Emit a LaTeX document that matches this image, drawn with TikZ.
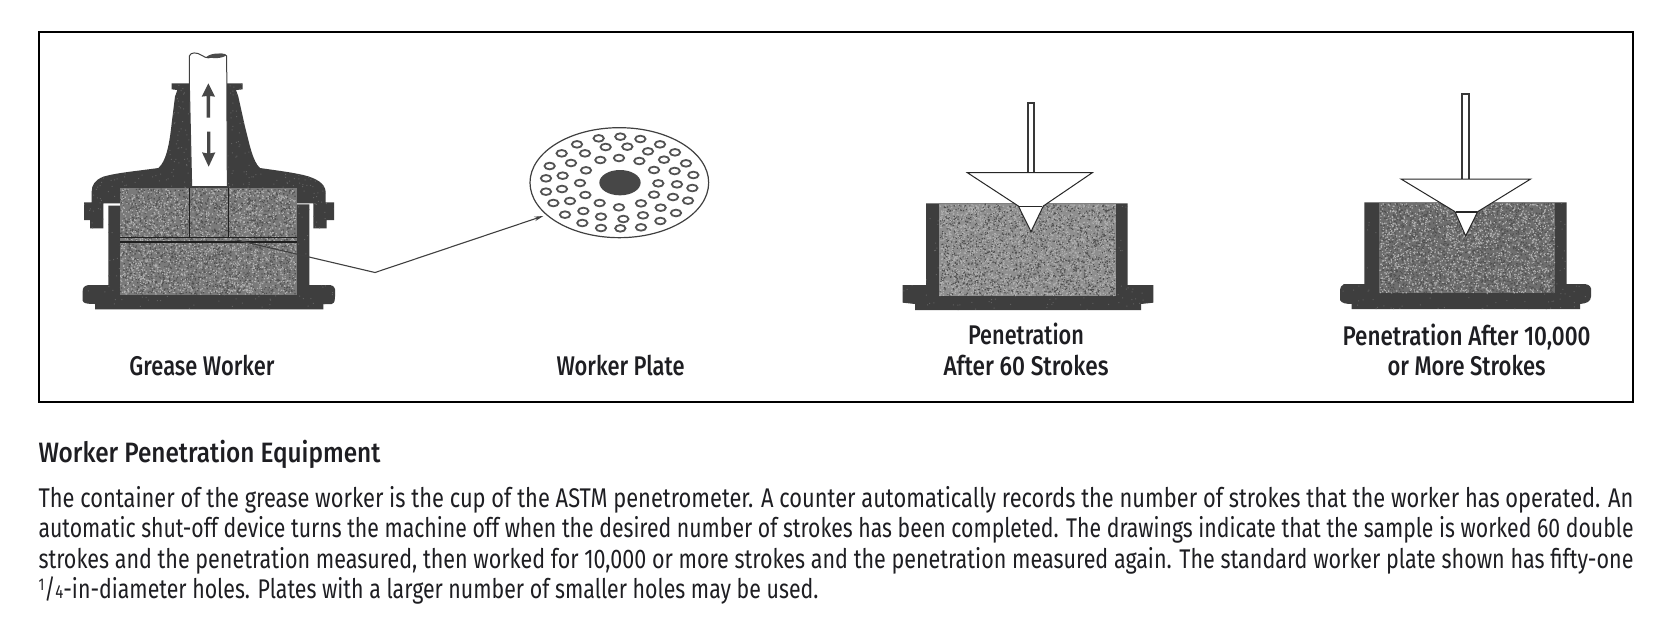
\documentclass[tikz,border=0pt]{standalone}
\usepackage{fontspec}
\usepackage{graphicx}
\setmainfont{Fira Sans}
\newfontfamily\medfont{Fira Sans Medium}
\usetikzlibrary{arrows.meta}
\definecolor{ink}{HTML}{1E1E22}
\definecolor{capdark}{HTML}{3E3E3E}
\definecolor{speckD}{HTML}{505050}
\definecolor{speckL}{HTML}{B0B0B0}
\newcommand{\fitw}[2]{\resizebox{#1pt}{\height}{#2}}
% speckle: x0 y0 w h chunks colour size
\newcommand{\speck}[7]{%
  \foreach \j in {1,...,#5}{%
    \fill[#6] \foreach \i in {1,...,80}{ (#1+rnd*#3,#2+rnd*#4) rectangle ++(#7,#7) };
  }}
\newcommand{\capshape}{(388,160) -- (335,160) -- (335,178) -- (352,180) -- (345,200) -- (335,280) .. controls (328,345) and (318,395) .. (295,414) .. controls (240,422) and (170,428) .. (130,440) .. controls (105,450) and (95,465) .. (95,485) -- (95,517) -- (72,517) -- (72,570) -- (90,570) -- (90,595) -- (130,595) -- (130,520) -- (180,520) -- (180,475) -- (710,475) -- (710,520) -- (760,520) -- (760,595) -- (800,595) -- (800,570) -- (822,570) -- (822,517) -- (797,517) -- (797,485) .. controls (795,460) and (770,445) .. (730,435) .. controls (690,426) and (640,420) .. (600,414) .. controls (578,395) and (568,340) .. (555,290) -- (535,200) -- (528,180) -- (548,178) -- (548,160) -- (500,160) -- cycle}
\newcommand{\cupshape}{(145,527) -- (145,765) -- (85,765) .. controls (70,768) and (68,775) .. (68,785) -- (68,812) .. controls (70,820) and (80,822) .. (105,822) -- (105,838) -- (790,838) -- (790,822) -- (815,822) .. controls (825,818) and (825,810) .. (825,800) -- (825,778) .. controls (823,768) and (815,765) .. (805,765) -- (748,765) -- (748,523) -- (710,523) -- cycle}
\newcommand{\cupthree}{(138,370) -- (138,615) -- (68,615) -- (68,668) -- (105,672) -- (105,690) -- (783,690) -- (783,672) -- (820,668) -- (820,615) -- (743,615) -- (743,370) -- cycle}
\newcommand{\cupfour}{(133,367) -- (133,612) -- (72,612) .. controls (64,615) and (60,622) .. (60,635) -- (60,660) .. controls (64,670) and (80,672) .. (95,672) -- (95,687) -- (780,687) -- (780,672) .. controls (800,670) and (812,665) .. (813,650) -- (813,625) .. controls (810,615) and (800,612) .. (790,612) -- (740,612) -- (740,367) -- cycle}
\tikzset{
  txt/.style={inner sep=0pt,outer sep=0pt,text=ink,anchor=base,font=\medfont\fontsize{27}{30}\selectfont},
  bodyline/.style={inner sep=0pt,outer sep=0pt,text=ink,anchor=base west,font=\fontsize{27}{30}\selectfont},
  zoomed/.style={x=0.33333pt,y=-0.33333pt},
  dark/.style={fill=capdark,draw=none},
  hole/.style={draw=black!68,line width=1.8pt,fill=white},
  rodline/.style={draw=black!78,line width=1.7pt,fill=white},
  conel/.style={draw=black!85,line width=1pt,fill=white},
  leader/.style={draw=black!75,line width=1.1pt}
}
\begin{document}
\begin{tikzpicture}[x=1pt,y=-1pt]
\pgfmathsetseed{4242}
\useasboundingbox (0,0) rectangle (1669,625);
\fill[white] (0,0) rectangle (1669,625);
\draw[black,line width=2pt] (38.5,32) rectangle (1633,402);

% ---------- Grease worker
\begin{scope}[shift={(60,30)},zoomed]
  \path[dark] \cupshape;
  \path[dark] \capshape;
  \begin{scope}
    \clip \capshape;
    \speck{70}{430}{755}{170}{4}{black!62}{3}
    \speck{320}{160}{250}{270}{2}{black!62}{3}
  \end{scope}
  \begin{scope}
    \clip \cupshape;
    \speck{68}{527}{760}{315}{3}{black!62}{3}
  \end{scope}
  \fill[black!52] (180,475) rectangle (710,795);
  \speck{180}{475}{526}{316}{30}{speckD}{3.6}
  \speck{180}{475}{526}{316}{28}{speckL}{3.6}
  % shaft
  \path[draw=black!75,line width=1pt,fill=white] (395,470) -- (388,160) -- (388,78) .. controls (392,66) and (410,66) .. (425,76) .. controls (440,86) and (450,85) .. (462,78) .. controls (475,70) and (495,70) .. (500,78) -- (502,470) -- cycle;
  \fill[black!70] (440,80) .. controls (455,68) and (490,68) .. (500,76) .. controls (490,84) and (460,88) .. (440,80) -- cycle;
  % shaft arrows
  \fill[black!72] (445,160) -- (465,200) -- (450,198) -- (450,263) -- (440,263) -- (440,198) -- (425,200) -- cycle;
  \fill[black!72] (446,410) -- (426,367) -- (441,370) -- (441,305) -- (451,305) -- (451,370) -- (466,367) -- cycle;
  % rod and plate lines
  \draw[black!88,line width=1.5pt] (388,475) -- (388,620);
  \draw[black!88,line width=1.5pt] (505,475) -- (505,620);
  \draw[black!88,line width=1.3pt] (180,622) -- (710,622);
  \draw[black!88,line width=1.8pt] (180,637) -- (710,637);
\end{scope}

% ---------- Worker plate
\begin{scope}[shift={(500,110)},zoomed]
  \path[draw=black!75,line width=1.2pt,fill=white] (358,218) ellipse [x radius=268,y radius=165];
  \foreach \hx/\hy in {296/85,361/80,421/87,480/103,231/103,317/111,382/110,444/124,525/127,185/130,255/130,301/150,357/144,418/153,492/149,558/160,149/168,213/159,258/181,462/180,524/183,580/195,138/205,188/197,240/219,475/220,531/223,577/234,138/245,186/237,256/255,462/254,519/261,564/272,160/279,210/273,299/279,357/292,423/280,482/293,528/309,195/314,250/303,303/320,370/327,429/316,481/333,247/339,303/354,361/355,423/352}
    \path[hole] (\hx,\hy) ellipse [x radius=15.5,y radius=10];
  \fill[black!72] (360,218) ellipse [x radius=62,y radius=38];
\end{scope}

% ---------- Penetration after 60 strokes
\begin{scope}[shift={(880,80)},zoomed]
  \path[dark] \cupthree;
  \begin{scope}
    \clip \cupthree;
    \speck{68}{370}{760}{322}{3}{black!62}{3}
  \end{scope}
  \fill[black!44] (178,372) rectangle (707,648);
  \speck{178}{372}{526}{273}{26}{speckD}{3.6}
  \speck{178}{372}{526}{273}{32}{speckL}{3.6}
  \path[rodline] (443,278) -- (443,68) -- (463,68) -- (463,278);
  \path[conel] (262,278) -- (637,278) -- (490,378) -- (453,455) -- (415,378) -- cycle;
  \draw[black!85,line width=1.2pt] (418,380) -- (487,380);
\end{scope}

% ---------- Penetration after 10,000 strokes
\begin{scope}[shift={(1320,80)},zoomed]
  \path[dark] \cupfour;
  \begin{scope}
    \clip \cupfour;
    \speck{60}{367}{760}{322}{3}{black!62}{3}
  \end{scope}
  \fill[black!57] (178,369) rectangle (705,640);
  \speck{178}{369}{524}{268}{30}{speckD}{3.6}
  \speck{178}{369}{524}{268}{24}{speckL}{3.6}
  \path[rodline] (425,297) -- (425,42) -- (447,42) -- (447,297);
  \path[conel] (243,297) -- (632,297) -- (473,395) -- (437,468) -- (405,395) -- cycle;
  \draw[black!85,line width=1.2pt] (408,396) -- (471,396);
\end{scope}

% ---------- Leader
\coordinate (wplate) at (236.7,240);
\coordinate (elbow) at (375,272.5);
\coordinate (ptarget) at (543.3,216);
\draw[leader,-{Stealth[length=9pt,width=4.5pt]}] (wplate) -- (elbow) -- (ptarget);

% ---------- Labels
\node[txt] (l1) at (202,375) {\fitw{145}{Grease Worker}};
\node[txt] (l2) at (620.5,375) {\fitw{128}{Worker Plate}};
\node[txt] (l3) at (1026,344) {\fitw{116}{Penetration}};
\node[txt] (l4) at (1026,375) {\fitw{165}{After 60 Strokes}};
\node[txt] (l5) at (1466.5,345) {\fitw{248}{Penetration After 10,000}};
\node[txt] (l6) at (1466.5,375) {\fitw{158}{or More Strokes}};

% ---------- Text below
\node[bodyline,font=\medfont\fontsize{28}{30}\selectfont] (h) at (38.5,462.5) {\fitw{342}{Worker Penetration Equipment}};
\node[bodyline] (b1) at (38.5,507) {\fitw{1595}{The container of the grease worker is the cup of the ASTM penetrometer. A counter automatically records the number of strokes that the worker has operated. An}};
\node[bodyline] (b2) at (38.5,537.5) {\fitw{1595}{automatic shut-off device turns the machine off when the desired number of strokes has been completed. The drawings indicate that the sample is worked 60 double}};
\node[bodyline] (b3) at (38.5,568) {\fitw{1595}{strokes and the penetration measured, then worked for 10,000 or more strokes and the penetration measured again. The standard worker plate shown has fifty-one}};
\node[bodyline] (b4) at (38.5,598) {\fitw{780}{\raisebox{8pt}{\fontsize{17}{17}\selectfont 1}/\fontsize{19}{20}\selectfont 4\fontsize{27}{30}\selectfont -in-diameter holes. Plates with a larger number of smaller holes may be used.}};
\end{tikzpicture}
\end{document}
